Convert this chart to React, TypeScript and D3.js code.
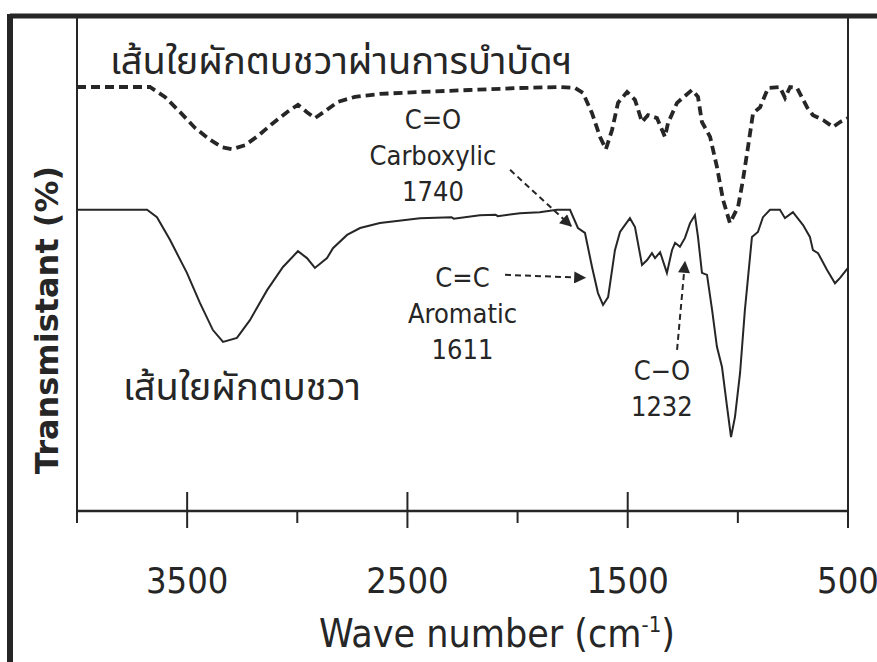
import React, { useEffect } from 'react';
import * as d3 from 'd3';

// FTIR spectra of water hyacinth fiber (raw vs. treated)
// [wavenumber cm-1, transmittance %]
const treatedFiber: [number, number][] = [
  [4000, 86.0], [3669, 86.0], [3601, 84.0], [3532, 80.9], [3464, 77.7], [3396, 75.3],
  [3342, 73.8], [3296, 73.4], [3237, 74.2], [3178, 76.1], [3115, 78.5], [3047, 80.9],
  [2997, 82.4], [2956, 80.9], [2920, 79.7], [2874, 81.1], [2815, 83.0], [2738, 84.0],
  [2625, 84.6], [2443, 85.0], [2216, 85.4], [1989, 85.8], [1807, 86.0], [1739, 85.8],
  [1703, 84.8], [1662, 80.7], [1626, 75.9], [1599, 73.4], [1571, 77.3], [1544, 82.8],
  [1503, 85.0], [1467, 83.4], [1435, 78.9], [1408, 80.3], [1367, 79.7], [1331, 75.9],
  [1317, 78.7], [1276, 82.8], [1208, 85.4], [1181, 84.0], [1163, 78.9], [1126, 75.9],
  [1095, 69.8], [1067, 63.1], [1036, 58.4], [999, 61.7], [977, 67.1], [954, 73.8],
  [931, 80.7], [899, 81.9], [863, 85.8], [809, 86.0], [786, 83.8], [763, 86.0],
  [731, 85.8], [686, 81.9], [659, 80.3], [613, 79.3], [568, 77.9], [536, 78.9], [500, 79.7],
];

const rawFiber: [number, number][] = [
  [4000, 61.1], [3682, 61.1], [3637, 59.6], [3578, 55.0], [3501, 48.3], [3442, 42.2],
  [3383, 36.7], [3337, 34.3], [3274, 35.1], [3215, 38.7], [3137, 44.8], [3065, 49.5],
  [2997, 52.7], [2956, 51.3], [2920, 49.3], [2865, 51.3], [2838, 53.3], [2774, 56.0],
  [2715, 57.4], [2625, 58.4], [2443, 59.4], [2300, 59.6], [2290, 59.3], [2171, 60.0],
  [2100, 60.1], [2090, 59.8], [1989, 60.4], [1900, 60.6], [1821, 61.1], [1762, 61.1],
  [1726, 57.4], [1694, 56.4], [1662, 49.5], [1635, 44.2], [1612, 41.8], [1589, 43.4],
  [1558, 52.9], [1535, 56.6], [1490, 59.4], [1467, 57.6], [1435, 49.9], [1412, 50.9],
  [1390, 52.3], [1376, 51.3], [1353, 52.5], [1322, 48.3], [1299, 52.9], [1285, 54.4],
  [1263, 53.6], [1240, 55.4], [1217, 58.4], [1195, 60.0], [1181, 55.6], [1163, 48.3],
  [1140, 47.9], [1117, 40.8], [1095, 33.3], [1072, 29.2], [1049, 21.1], [1031, 15.0],
  [1013, 19.1], [990, 28.0], [968, 40.8], [936, 55.6], [909, 56.6], [886, 59.6],
  [854, 61.1], [809, 61.1], [786, 59.4], [750, 60.6], [704, 58.0], [673, 55.6],
  [659, 52.9], [636, 52.3], [595, 48.9], [559, 46.2], [536, 47.3], [500, 49.3],
];

const majorTicks = [3500, 2500, 1500, 500];
const minorTicks = [4000, 3000, 2000, 1000];

const seriesNames = ['เส้นใยผักตบชวาผ่านการบำบัดฯ', 'เส้นใยผักตบชวา'];

// band annotations: label lines, label anchor (wn, T), arrow from -> to
const annotations = [
  { lines: ['C=O', 'Carboxylic', '1740'], at: [2384, 79.3], from: [2034, 69.2], to: [1757, 57.8] },
  { lines: ['C=C', 'Aromatic', '1611'], at: [2250, 47.3], from: [2057, 47.9], to: [1694, 47.3] },
  { lines: ['C−O', '1232'], at: [1345, 28.4], from: [1276, 32.7], to: [1240, 50.5] },
];

const W = 877;
const H = 662;
const ink = '#262626';
const font = '"DejaVu Sans Condensed", "DejaVu Sans", sans-serif';
const thai = '"Noto Sans Thai", "Noto Sans", sans-serif';

export default function App() {
  useEffect(() => {
    document.body.style.margin = '0';
  }, []);

  const left = 77;
  const right = 848;
  const top = 18;
  const bottom = 511;

  const x = d3.scaleLinear().domain([4000, 500]).range([left, right]);
  const y = d3.scaleLinear().domain([0, 100]).range([bottom, top]);

  const line = d3
    .line<[number, number]>()
    .x(d => x(d[0]))
    .y(d => y(d[1]));

  return (
    <svg width={W} height={H} style={{ display: 'block', background: '#fff' }}>
      <defs>
        <marker id="head" viewBox="0 0 10 10" refX="9" refY="5" markerWidth="7" markerHeight="6" orient="auto" markerUnits="strokeWidth">
          <path d="M0,0 L10,5 L0,10 z" fill={ink} />
        </marker>
      </defs>

      {/* outer frame */}
      <line x1={10} x2={W} y1={16} y2={16} stroke={ink} strokeWidth={5} />
      <line x1={10} x2={10} y1={14} y2={H} stroke={ink} strokeWidth={6} />

      {/* plot box */}
      <line x1={left} x2={left} y1={top} y2={bottom} stroke={ink} strokeWidth={2} />
      <line x1={right} x2={right} y1={top} y2={bottom} stroke={ink} strokeWidth={2} />
      <line x1={left} x2={right} y1={bottom} y2={bottom} stroke={ink} strokeWidth={2.5} />

      {majorTicks.map(t => (
        <line key={'M' + t} x1={x(t)} x2={x(t)} y1={bottom - 19} y2={bottom + 17} stroke={ink} strokeWidth={2} />
      ))}
      {minorTicks.map(t => (
        <line key={'m' + t} x1={x(t)} x2={x(t)} y1={bottom} y2={bottom + 12} stroke={ink} strokeWidth={2} />
      ))}
      {majorTicks.map(t => (
        <text key={'l' + t} x={x(t)} y={593} textAnchor="middle" fontFamily={font} fontSize={36} fill={ink}>
          {t}
        </text>
      ))}

      <text x={497} y={647} textAnchor="middle" fontFamily={font} fontSize={39} fill={ink}>
        Wave number (cm<tspan dy={-15} fontSize={22}>-1</tspan>
        <tspan dy={15}>)</tspan>
      </text>

      <text
        transform={`translate(58, 320) rotate(-90)`}
        textAnchor="middle"
        fontFamily='"DejaVu Sans", sans-serif'
        fontSize={32}
        fontWeight="bold"
        fill={ink}
      >
        Transmistant (%)
      </text>

      {/* spectra */}
      <path d={line(treatedFiber) || ''} fill="none" stroke={ink} strokeWidth={3.8} strokeDasharray="9 5" />
      <path d={line(rawFiber) || ''} fill="none" stroke={ink} strokeWidth={2} />

      <text x={110} y={74} fontFamily={thai} fontSize={38} fill={ink}>
        {seriesNames[0]}
      </text>
      <text x={123} y={400} fontFamily={thai} fontSize={38} fill={ink}>
        {seriesNames[1]}
      </text>

      {/* annotations */}
      {annotations.map((a, i) => (
        <g key={i}>
          {a.lines.map((s, j) => (
            <text
              key={j}
              x={x(a.at[0])}
              y={y(a.at[1]) + 9 + j * 36}
              textAnchor="middle"
              fontFamily={font}
              fontSize={27}
              fill={ink}
            >
              {s}
            </text>
          ))}
          <line
            x1={x(a.from[0])}
            y1={y(a.from[1])}
            x2={x(a.to[0])}
            y2={y(a.to[1])}
            stroke={ink}
            strokeWidth={2}
            strokeDasharray="6 4"
            markerEnd="url(#head)"
          />
        </g>
      ))}
    </svg>
  );
}
